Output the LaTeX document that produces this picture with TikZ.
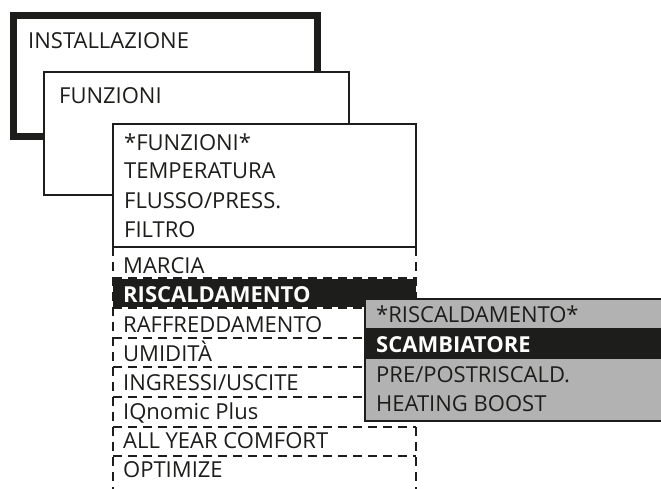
\documentclass[tikz,border=0pt]{standalone}
\usepackage{fontspec}
\setmainfont{Open Sans}
\usepackage{xcolor}
\definecolor{ink}{HTML}{1D1D1B}
\definecolor{panel}{HTML}{B2B2B2}
\tikzset{
  item/.style={anchor=base west, inner sep=0pt, text=ink, font=\fontsize{22}{22}\selectfont},
  hilite/.style={item, text=white, font=\fontsize{22}{22}\selectfont\bfseries},
  menudash/.style={ink, line width=2.2pt, dash pattern=on 9pt off 6pt},
}
\begin{document}
\begin{tikzpicture}[x=1pt,y=-1pt]
      \useasboundingbox (0,0) rectangle (661,488);
      \clip (0,0) rectangle (661,488);

      % INSTALLAZIONE
      \draw[ink, line width=7pt, fill=white] (13.5,15) rectangle (317,136);
      \node[item] (inst) at (28,48) {INSTALLAZIONE};

      % FUNZIONI
      \draw[ink, line width=2pt, fill=white] (44,72) rectangle (349,195);
      \node[item] (funz) at (59,103) {FUNZIONI};

      % menu funzioni
      \fill[white] (113,124) rectangle (416,490);
      \draw[ink, line width=2pt] (113,247) rectangle (416,124);
      \foreach \y in {278,308,338,367,397,427,456}
        \draw[menudash] (113,\y) -- (416,\y);
      \draw[menudash] (113,247) -- (113,490);
      \draw[menudash] (416,247) -- (416,490);
      \fill[ink] (113,279) rectangle (416,307);

      \node[item] (f0) at (124,150) {*FUNZIONI*};
      \node[item] (f1) at (124,178) {TEMPERATURA};
      \node[item] (f2) at (124,208) {FLUSSO/PRESS.};
      \node[item] (f3) at (124,237) {FILTRO};
      \node[item] (m1) at (123,273) {MARCIA};
      \node[hilite] (m2) at (123,302) {RISCALDAMENTO};
      \node[item] (m3) at (123,332) {RAFFREDDAMENTO};
      \node[item] (m4) at (123,361) {UMIDITÀ};
      \node[item] (m5) at (123,390) {INGRESSI/USCITE};
      \node[item] (m6) at (123,419) {IQnomic Plus};
      \node[item] (m7) at (123,448) {ALL YEAR COMFORT};
      \node[item] (m8) at (123,477) {OPTIMIZE};

      % sottomenu riscaldamento
      \draw[ink, line width=2pt, fill=panel] (365,299) rectangle (680,421);
      \fill[ink] (365,328) rectangle (680,359);
      \node[item] (s1) at (376,322) {*RISCALDAMENTO*};
      \node[hilite] (s2) at (376,352) {SCAMBIATORE};
      \node[item] (s3) at (376,382) {PRE/POSTRISCALD.};
      \node[item] (s4) at (376,411) {HEATING BOOST};
    \end{tikzpicture}
\end{document}
